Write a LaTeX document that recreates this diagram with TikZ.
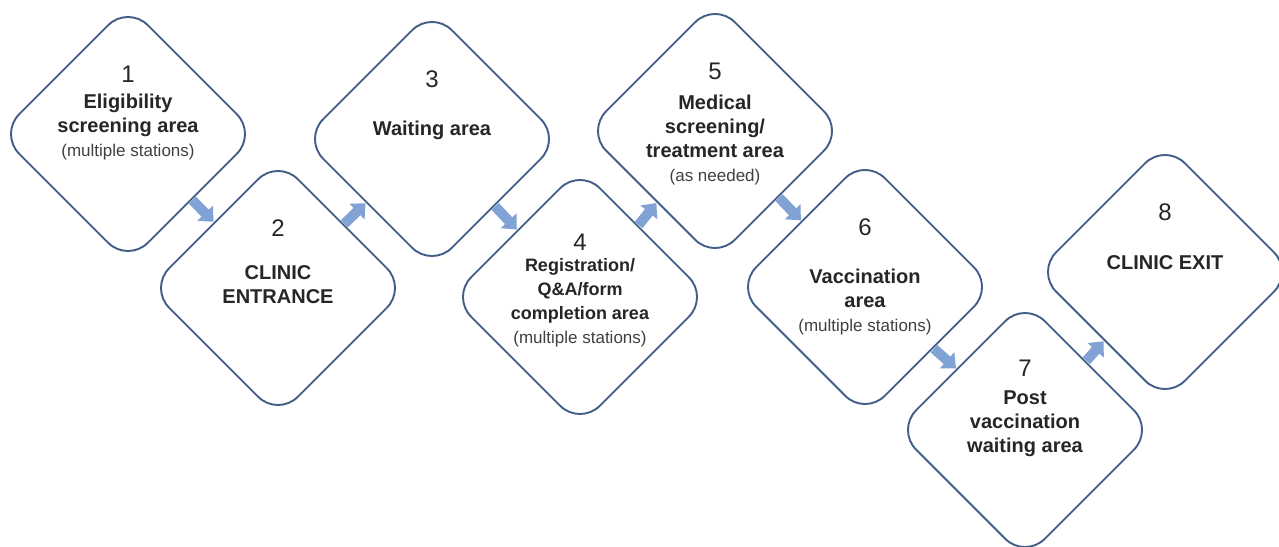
\documentclass[tikz,border=0pt]{standalone}
\usepackage{fontspec}
\setmainfont{Liberation Sans}
\usetikzlibrary{positioning}
\usetikzlibrary{shapes.geometric}
\usetikzlibrary{arrows.meta}
\definecolor{edgeblue}{RGB}{66,94,136}
\definecolor{flowblue}{RGB}{128,162,212}
\newcommand{\smallnote}[1]{{\fontsize{17}{24}\selectfont\mdseries\color{black!75}#1}}

\begin{document}
\begin{tikzpicture}[
            x = 1pt,
            y = 1pt,
            stage/.style = {
                draw = edgeblue,
                line width = 1.9pt,
                fill = white,
                diamond,
                rounded corners = 28pt,
                minimum width = 258pt,
                minimum height = 258pt,
                inner sep = 0pt
            },
            num/.style = {
                font = \fontsize{24}{28}\selectfont,
                text = black!85,
                inner sep = 0pt
            },
            body/.style = {
                font = \fontsize{#1}{24}\selectfont\bfseries,
                text = black!85,
                align = center,
                inner sep = 0pt
            },
            body/.default = 20,
            flow/.style = {
                draw = flowblue,
                line width = 10pt,
                -{Triangle[width = 21pt, length = 12pt]},
                shorten <= 0.5pt,
                shorten >= 0.5pt
            },
            node distance = {11pt}
            ]
            \useasboundingbox (0,0) rectangle (1279,546);

            \node[stage] (s1) at (128,412) {};
            \node[stage] (s2) at (278,258) {};
            \node[stage] (s3) at (432,407) {};
            \node[stage] (s4) at (580,249) {};
            \node[stage] (s5) at (715,415) {};
            \node[stage] (s6) at (865,259) {};
            \node[stage] (s7) at (1025,116) {};
            \node[stage] (s8) at (1165,274) {};

            \node[num] (n1) at ([yshift=60pt]s1.center) {1};
            \node[num] (n2) at ([yshift=60pt]s2.center) {2};
            \node[num] (n3) at ([yshift=60pt]s3.center) {3};
            \node[num] (n4) at ([yshift=55pt]s4.center) {4};
            \node[num] (n5) at ([yshift=60pt]s5.center) {5};
            \node[num] (n6) at ([yshift=60pt]s6.center) {6};
            \node[num] (n7) at ([yshift=62pt]s7.center) {7};
            \node[num] (n8) at ([yshift=60pt]s8.center) {8};

            \node[body, below=of n1] (t1) {Eligibility\\screening area\\\smallnote{(multiple stations)}};
            \node[body, below=29pt of n2] (t2) {CLINIC\\ENTRANCE};
            \node[body, below=33pt of n3] (t3) {Waiting area};
            \node[body=18, below=8pt of n4] (t4) {Registration/\\Q\&A/form\\completion area\\\smallnote{(multiple stations)}};
            \node[body, below=15pt of n5] (t5) {Medical\\screening/\\treatment area\\\smallnote{(as needed)}};
            \node[body, below=33pt of n6] (t6) {Vaccination\\area\\\smallnote{(multiple stations)}};
            \node[body, below=14pt of n7] (t7) {Post\\vaccination\\waiting area};
            \node[body, below=35pt of n8] (t8) {CLINIC EXIT};

            \draw[flow] (s1) -- (s2);
            \draw[flow] (s2) -- (s3);
            \draw[flow] (s3) -- (s4);
            \draw[flow] (s4) -- (s5);
            \draw[flow] (s5) -- (s6);
            \draw[flow] (s6) -- (s7);
            \draw[flow] (s7) -- (s8);
\end{tikzpicture}
\end{document}
